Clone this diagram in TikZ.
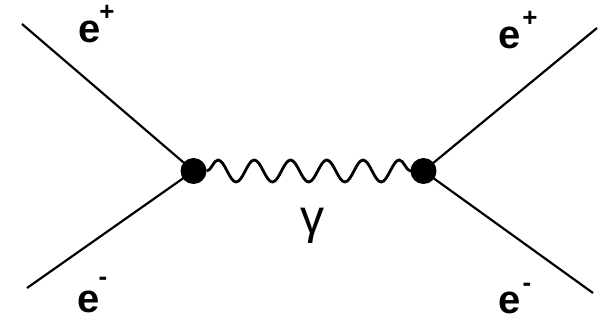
\documentclass[tikz,border=0pt]{standalone}
\usepackage{fontspec}
\setmainfont{Liberation Sans}
\usetikzlibrary{decorations.pathmorphing,backgrounds}
\begin{document}
\begin{tikzpicture}[x=1pt,y=-1pt,
  fermion/.style={line width=2.2pt},
  photon/.style={line width=2.8pt,decorate,decoration={snake,segment length=36.25pt,amplitude=11pt}},
  vertex/.style={circle,fill=black,inner sep=0pt,minimum size=26pt},
  lbl/.style={inner sep=0pt,font=\fontsize{40}{40}\selectfont\bfseries},
  sup/.style={inner sep=0pt,font=\fontsize{26}{26}\selectfont\bfseries}]
\useasboundingbox (0,0) rectangle (607,323);
\node[vertex] (v1) at (193.5,171) {};
\node[vertex] (v2) at (423.5,171) {};
\coordinate (a) at (22,24);
\coordinate (b) at (27,288);
\coordinate (c) at (597,28);
\coordinate (d) at (593,293);
\begin{scope}[on background layer]
\draw[fermion] (a) -- (v1.center);
\draw[fermion] (b) -- (v1.center);
\draw[fermion] (c) -- (v2.center);
\draw[fermion] (d) -- (v2.center);
\draw[photon] (v1.east) -- (v2.center);
\end{scope}
\node[lbl] (e1) at (90,32) {e};
\node[sup] (p1) at (107,13) {+};
\node[lbl] (e2) at (510,38) {e};
\node[sup] (p2) at (530,19) {+};
\node[lbl] (e3) at (89,302) {e};
\node[sup] (m1) at (103,281) {-};
\node[lbl] (e4) at (510,303) {e};
\node[sup] (m2) at (527,287) {-};
\node[inner sep=0pt,font=\fontsize{48}{48}\selectfont] (g) at (312,226) {γ};
\end{tikzpicture}
\end{document}
